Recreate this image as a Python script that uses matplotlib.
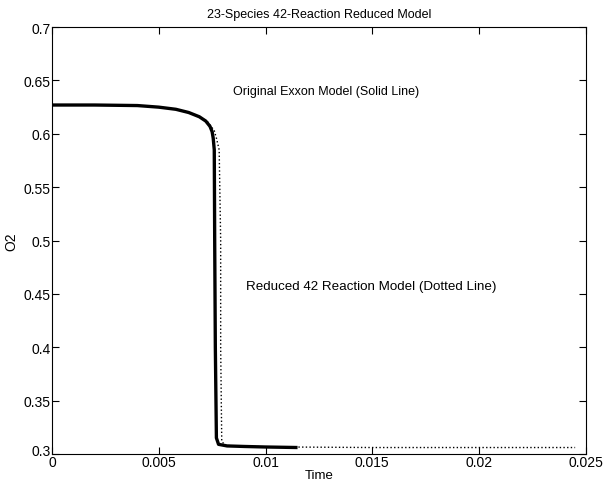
import numpy as np
import matplotlib
matplotlib.use("Agg")
import matplotlib.pyplot as plt
import matplotlib.transforms as mtransforms

plt.rcParams['font.family'] = ['Liberation Sans', 'DejaVu Sans']

# ---- data ----
# original Exxon model (solid)
t_full = [0, 0.002, 0.004, 0.005, 0.0058, 0.0064, 0.0069, 0.0072, 0.0074, 0.0075,
          0.00755, 0.0076, 0.00762, 0.00765, 0.0077, 0.0078, 0.0082, 0.009, 0.010, 0.0115]
o2_full = [0.627, 0.627, 0.6265, 0.625, 0.623, 0.620, 0.616, 0.612, 0.607, 0.602,
           0.596, 0.585, 0.50, 0.40, 0.315, 0.309, 0.3075, 0.307, 0.3065, 0.306]

# reduced 42 reaction model (dotted)
t_red = [0, 0.002, 0.004, 0.005, 0.0058, 0.0064, 0.0069, 0.0073, 0.0076, 0.0077,
         0.00783, 0.0079, 0.0079, 0.00795, 0.0081, 0.009, 0.011, 0.015, 0.020, 0.0245]
o2_red = [0.627, 0.627, 0.6265, 0.625, 0.623, 0.620, 0.616, 0.611, 0.603, 0.596,
          0.585, 0.50, 0.40, 0.312, 0.308, 0.307, 0.3065, 0.306, 0.306, 0.306]

fig = plt.figure(figsize=(6.08, 4.85), dpi=100)
ax = fig.add_axes([0.0855, 0.062, 0.878, 0.880])

ax.plot(t_full, o2_full, color="k", linewidth=2.4, solid_capstyle="butt")
ax.plot(t_red, o2_red, color="k", linestyle=":", linewidth=1.0)

ax.text(0.0085, 0.637, "Original Exxon Model (Solid Line)", fontsize=9)
ax.text(0.0091, 0.455, "Reduced 42 Reaction Model (Dotted Line)", fontsize=9.6)

ax.set_xlim(0, 0.025)
ax.set_ylim(0.3, 0.7)
ax.set_xticks([0, 0.005, 0.01, 0.015, 0.02, 0.025])
ax.set_xticklabels(["0", "0.005", "0.01", "0.015", "0.02", "0.025"])
ax.set_yticks([0.3, 0.35, 0.4, 0.45, 0.5, 0.55, 0.6, 0.65, 0.7])
ax.set_yticklabels(["0.3", "0.35", "0.4", "0.45", "0.5", "0.55", "0.6", "0.65", "0.7"])
ax.tick_params(direction="in", top=True, right=True, labelsize=10, length=5, pad=1)

# nudge the lowest y label up a bit so it clears the "0" below it
lab03 = ax.get_yticklabels()[0]
lab03.set_transform(lab03.get_transform() +
                    mtransforms.ScaledTranslation(0, 4 / 100, fig.dpi_scale_trans))

ax.set_xlabel("Time", fontsize=9.5, labelpad=0)
ax.set_ylabel("O2", fontsize=10, labelpad=4)
ax.set_title("23-Species 42-Reaction Reduced Model", fontsize=9, pad=7)

fig.savefig("out.png", dpi=100)
